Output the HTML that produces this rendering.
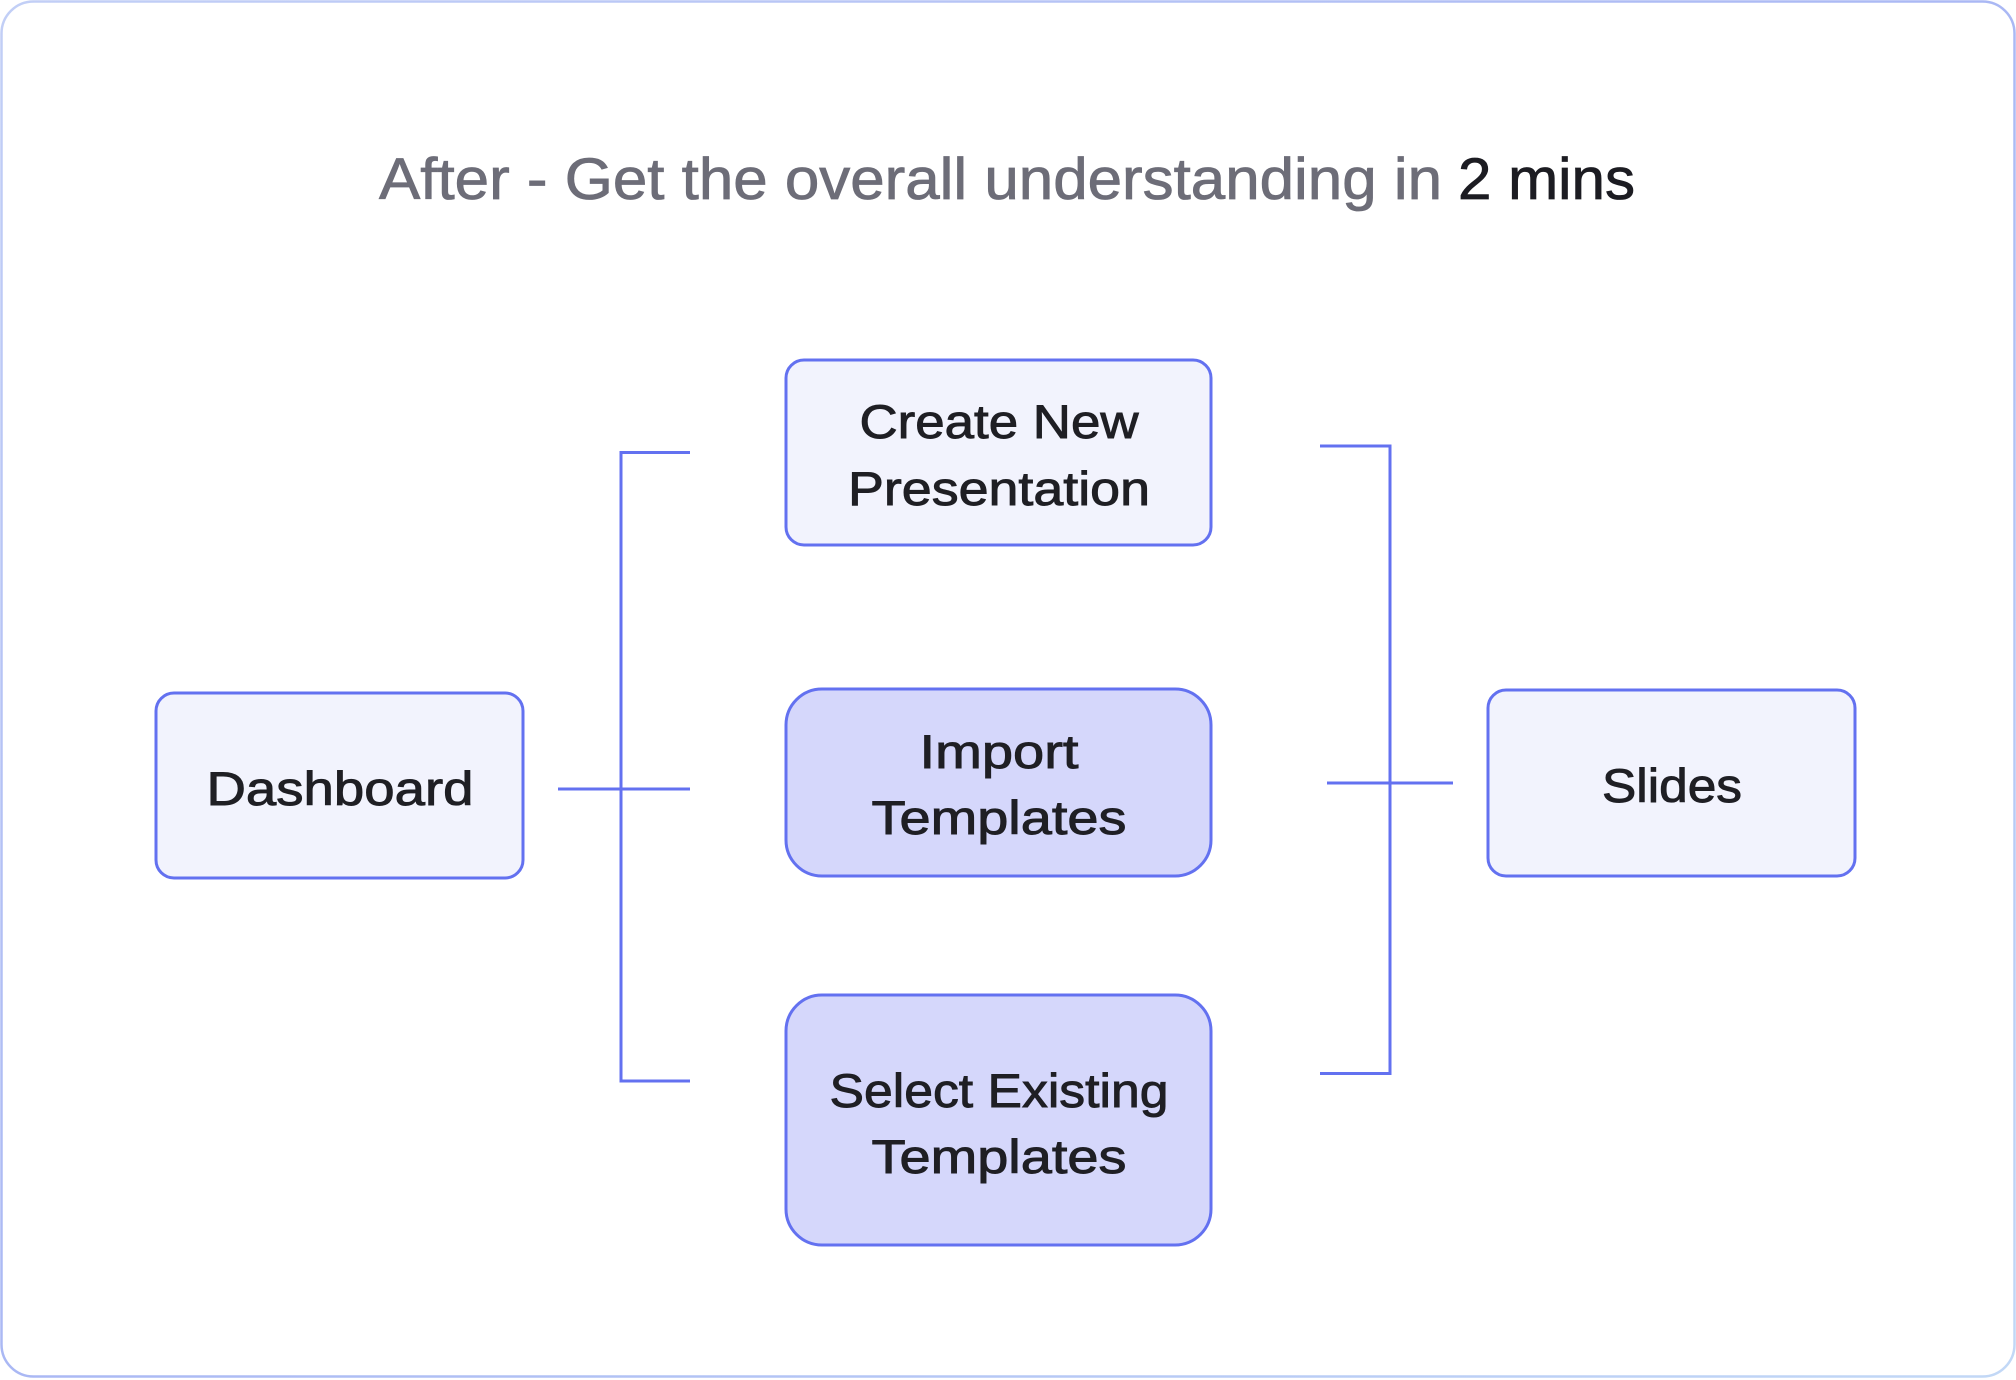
<!DOCTYPE html>
<html><head><meta charset="utf-8"><style>html,body{margin:0;padding:0;background:#fff}svg{display:block}</style></head>
<body>
<svg width="2016" height="1380" viewBox="0 0 2016 1380" xmlns="http://www.w3.org/2000/svg">
<defs><linearGradient id="bd" x1="0" y1="0" x2="1" y2="1"><stop offset="0" stop-color="#c2cff6"/><stop offset="0.5" stop-color="#aab8f4"/><stop offset="1" stop-color="#c2d8f6"/></linearGradient></defs>
<rect x="1.5" y="1.5" width="2013" height="1375" rx="32" fill="#fff" stroke="url(#bd)" stroke-width="2.5"/>
<g font-family="Liberation Sans, sans-serif" font-size="58" stroke-width="0.8">
<text x="379" y="199" fill="#6d6d78" stroke="#6d6d78" textLength="1063" lengthAdjust="spacingAndGlyphs">After - Get the overall understanding in</text>
<text x="1458" y="199" fill="#1c1c22" stroke="#1c1c22" textLength="177" lengthAdjust="spacingAndGlyphs">2 mins</text>
</g>
<g fill="none" stroke="#6371f0" stroke-width="3">
<polyline points="690,452.5 621,452.5 621,1081 690,1081"/>
<line x1="558" y1="789" x2="690" y2="789"/>
<polyline points="1320,446 1390,446 1390,1073.5 1320,1073.5"/>
<line x1="1327" y1="783" x2="1453" y2="783"/>
</g>
<g stroke="#6371f0" stroke-width="3">
<rect x="156" y="693" width="367" height="185" rx="18" fill="#f2f3fd"/>
<rect x="786" y="360" width="425" height="185" rx="18" fill="#f2f3fd"/>
<rect x="786" y="689" width="425" height="187" rx="36" fill="#d5d7fb"/>
<rect x="786" y="995" width="425" height="250" rx="36" fill="#d5d7fb"/>
<rect x="1488" y="690" width="367" height="186" rx="18" fill="#f2f3fd"/>
</g>
<g font-family="Liberation Sans, sans-serif" font-size="47" fill="#1f1f24" stroke="#1f1f24" stroke-width="0.9" text-anchor="middle">
<text x="340" y="805" textLength="267" lengthAdjust="spacingAndGlyphs">Dashboard</text>
<text x="999" y="438" textLength="279" lengthAdjust="spacingAndGlyphs">Create New</text>
<text x="999" y="505" textLength="302" lengthAdjust="spacingAndGlyphs">Presentation</text>
<text x="999" y="768" textLength="159" lengthAdjust="spacingAndGlyphs">Import</text>
<text x="999" y="834" textLength="255" lengthAdjust="spacingAndGlyphs">Templates</text>
<text x="999" y="1107" textLength="339" lengthAdjust="spacingAndGlyphs">Select Existing</text>
<text x="999" y="1173" textLength="255" lengthAdjust="spacingAndGlyphs">Templates</text>
<text x="1672" y="802" textLength="140" lengthAdjust="spacingAndGlyphs">Slides</text>
</g>
</svg>
</body></html>
